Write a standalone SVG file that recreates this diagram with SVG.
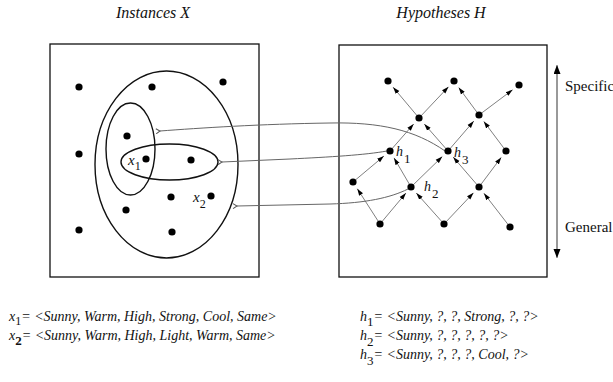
<svg xmlns="http://www.w3.org/2000/svg" width="613" height="382" viewBox="0 0 613 382">
<style>
.t{font-family:"Liberation Serif","Times New Roman",serif;font-style:italic;fill:#111}
.r{font-family:"Liberation Serif","Times New Roman",serif;fill:#111}
.box{fill:none;stroke:#111;stroke-width:1.3}
.ell{fill:none;stroke:#111;stroke-width:1.4}
.dot{fill:#000}
.edge{stroke:#808080;stroke-width:1;fill:none;marker-end:url(#ah)}
.link{stroke:#666;stroke-width:1;fill:none;marker-end:url(#oa)}
</style>
<defs>
<marker id="ah" markerUnits="userSpaceOnUse" markerWidth="7" markerHeight="6" refX="7" refY="3" orient="auto"><path d="M0,0.7 L7,3 L0,5.3 z" fill="#000"/></marker>
<marker id="oa" markerUnits="userSpaceOnUse" markerWidth="7" markerHeight="6" refX="1" refY="3" orient="auto"><path d="M5,0.5 L1,3 L5,5.5" fill="none" stroke="#555" stroke-width="1"/></marker>
<marker id="big" markerUnits="userSpaceOnUse" markerWidth="8" markerHeight="10" refX="9" refY="3.5" orient="auto"><path d="M0,0 L9,3.5 L0,7 z" fill="#000"/></marker>
</defs>

<text class="t" x="153" y="18" font-size="16" text-anchor="middle">Instances X</text>
<text class="t" x="441" y="18" font-size="16" text-anchor="middle">Hypotheses H</text>

<g id="instances">
<rect class="box" x="50" y="44" width="209" height="233"/>
<ellipse class="ell" cx="166.5" cy="164.5" rx="71.5" ry="93.5"/>
<ellipse class="ell" cx="130.5" cy="149" rx="24.5" ry="46"/>
<ellipse class="ell" cx="169.5" cy="162" rx="48.5" ry="18"/>
<circle class="dot" cx="79" cy="87" r="3.6"/>
<circle class="dot" cx="152" cy="87" r="3.6"/>
<circle class="dot" cx="223" cy="82" r="3.6"/>
<circle class="dot" cx="127" cy="136" r="3.6"/>
<circle class="dot" cx="79" cy="154" r="3.6"/>
<circle class="dot" cx="146" cy="159" r="3.6"/>
<circle class="dot" cx="191" cy="160" r="3.6"/>
<circle class="dot" cx="171" cy="197" r="3.6"/>
<circle class="dot" cx="211" cy="196" r="3.6"/>
<circle class="dot" cx="126" cy="210" r="3.6"/>
<circle class="dot" cx="79" cy="230" r="3.6"/>
<circle class="dot" cx="172" cy="232" r="3.6"/>
<text class="t" x="128" y="165" font-size="15">x<tspan class="r" font-style="normal" dy="5" font-size="12">1</tspan></text>
<text class="t" x="193" y="202" font-size="15">x<tspan class="r" font-style="normal" dy="6" font-size="12">2</tspan></text>
</g>

<g id="hypotheses">
<rect class="box" x="339" y="45" width="208" height="232"/>
</g>

<g id="connectors">
<line class="edge" x1="380" y1="224" x2="357.3" y2="188.7"/>
<line class="edge" x1="380" y1="224" x2="405.9" y2="193.1"/>
<line class="edge" x1="353" y1="182" x2="383.9" y2="156.1"/>
<line class="edge" x1="411" y1="187" x2="394" y2="157.9"/>
<line class="edge" x1="411" y1="187" x2="442.3" y2="156.6"/>
<line class="edge" x1="444" y1="224" x2="416.3" y2="193"/>
<line class="edge" x1="444" y1="224" x2="473.5" y2="192.8"/>
<line class="edge" x1="510" y1="227" x2="483.9" y2="193.3"/>
<line class="edge" x1="479" y1="187" x2="453.2" y2="157.1"/>
<line class="edge" x1="479" y1="187" x2="501.2" y2="157.4"/>
<line class="edge" x1="390" y1="151" x2="413.7" y2="124"/>
<line class="edge" x1="448" y1="151" x2="424.3" y2="124"/>
<line class="edge" x1="448" y1="151" x2="473.8" y2="121.1"/>
<line class="edge" x1="506" y1="151" x2="483.8" y2="121.4"/>
<line class="edge" x1="419" y1="118" x2="393.1" y2="87.2"/>
<line class="edge" x1="419" y1="118" x2="448.5" y2="86.8"/>
<line class="edge" x1="479" y1="115" x2="458.7" y2="87.5"/>
<line class="edge" x1="479" y1="115" x2="512.6" y2="89.8"/>
<path class="link" d="M445,151 C415,130 380,122 330,123 C260,124 200,128 160,131"/>
<path class="link" d="M387,151 C365,155 330,157 290,159 L222,162"/>
<path class="link" d="M408,189 C390,198 365,203 330,204 L237,206"/>
</g>

<g id="lattice-nodes">
<circle class="dot" cx="388" cy="81" r="3.6"/>
<circle class="dot" cx="454" cy="81" r="3.6"/>
<circle class="dot" cx="519" cy="85" r="3.6"/>
<circle class="dot" cx="419" cy="118" r="3.6"/>
<circle class="dot" cx="479" cy="115" r="3.6"/>
<circle class="dot" cx="390" cy="151" r="3.6"/>
<circle class="dot" cx="448" cy="151" r="3.6"/>
<circle class="dot" cx="506" cy="151" r="3.6"/>
<circle class="dot" cx="353" cy="182" r="3.6"/>
<circle class="dot" cx="411" cy="187" r="3.6"/>
<circle class="dot" cx="479" cy="187" r="3.6"/>
<circle class="dot" cx="380" cy="224" r="3.6"/>
<circle class="dot" cx="444" cy="224" r="3.6"/>
<circle class="dot" cx="510" cy="227" r="3.6"/>
<text class="t" x="396" y="156" font-size="14">h<tspan class="r" font-style="normal" dx="1" dy="7" font-size="13">1</tspan></text>
<text class="t" x="454" y="157" font-size="14">h<tspan class="r" font-style="normal" dx="1" dy="7" font-size="13">3</tspan></text>
<text class="t" x="424" y="191" font-size="14">h<tspan class="r" font-style="normal" dx="1" dy="7" font-size="13">2</tspan></text>
</g>

<g id="scale">
<line x1="557" y1="160" x2="557" y2="65" stroke="#555" stroke-width="1.2" marker-end="url(#big)"/>
<line x1="557" y1="160" x2="557" y2="258" stroke="#555" stroke-width="1.2" marker-end="url(#big)"/>
<text class="r" x="565" y="91" font-size="15">Specific</text>
<text class="r" x="565" y="232" font-size="15">General</text>
</g>

<g id="definitions">
<text class="t" x="9" y="321" font-size="14">x<tspan class="r" font-style="normal" dy="4" font-size="12">1</tspan><tspan dy="-4">= &lt;Sunny, Warm, High, Strong, Cool, Same&gt;</tspan></text>
<text class="t" x="9" y="340" font-size="14">x<tspan class="r" font-style="normal" dy="5" font-size="13" font-weight="bold">2</tspan><tspan dy="-5">= &lt;Sunny, Warm, High, Light, Warm, Same&gt;</tspan></text>
<text class="t" x="360" y="321" font-size="14">h<tspan class="r" font-style="normal" dy="5" font-size="13">1</tspan><tspan dy="-5">= &lt;Sunny, ?, ?, Strong, ?, ?&gt;</tspan></text>
<text class="t" x="360" y="340" font-size="14">h<tspan class="r" font-style="normal" dy="6" font-size="13">2</tspan><tspan dy="-6">= &lt;Sunny, ?, ?, ?, ?, ?&gt;</tspan></text>
<text class="t" x="360" y="359" font-size="14">h<tspan class="r" font-style="normal" dy="6" font-size="13">3</tspan><tspan dy="-6">= &lt;Sunny, ?, ?, ?, Cool, ?&gt;</tspan></text>
</g>
</svg>
